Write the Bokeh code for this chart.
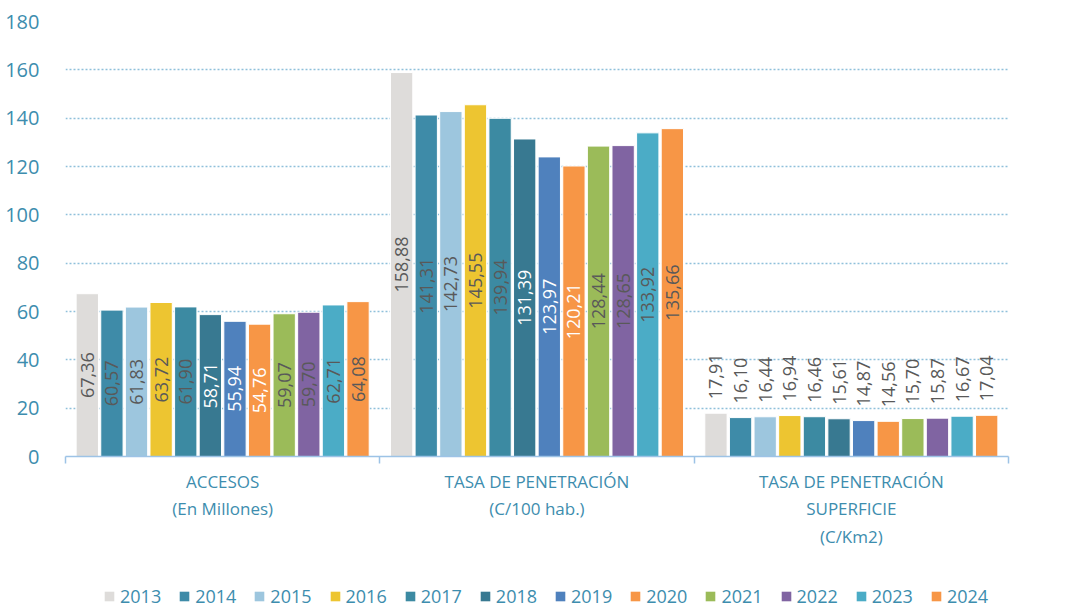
import math
from bokeh.plotting import figure
from bokeh.layouts import column
from bokeh.models import (Range1d, LinearAxis, FixedTicker, Legend, LegendItem, ColumnDataSource)
from bokeh.transform import dodge
from bokeh.core.properties import value
from bokeh.embed import file_html
from bokeh.resources import INLINE

# ---------------- data ----------------
categories = ["ACCESOS\n(En Millones)",
              "TASA DE PENETRACIÓN\n(C/100 hab.)",
              "TASA DE PENETRACIÓN\nSUPERFICIE\n(C/Km2)"]
years = ["2013", "2014", "2015", "2016", "2017", "2018",
         "2019", "2020", "2021", "2022", "2023", "2024"]
accesos = [67.36, 60.57, 61.83, 63.72, 61.90, 58.71, 55.94, 54.76, 59.07, 59.70, 62.71, 64.08]
tasa_penetracion = [158.88, 141.31, 142.73, 145.55, 139.94, 131.39, 123.97, 120.21, 128.44, 128.65, 133.92, 135.66]
tasa_superficie = [17.91, 16.10, 16.44, 16.94, 16.46, 15.61, 14.87, 14.56, 15.70, 15.87, 16.67, 17.04]
y_ticks = [0, 20, 40, 60, 80, 100, 120, 140, 160, 180]

colors = ["#DEDCDA", "#3E8BA8", "#9DC6DE", "#EDC531", "#3C8AA2", "#387991",
          "#4F81BD", "#F79646", "#9BBB59", "#8064A2", "#4BACC6", "#F79646"]
inside_label_colors = ["#595959"] * 5 + ["#FFFFFF"] * 3 + ["#595959"] * 4

TEAL = "#3D8DAE"
FONT = "Open Sans"

ncat = len(categories)
centers = [k + 0.5 for k in range(ncat)]
bounds = list(range(ncat + 1))

p = figure(x_range=Range1d(0, ncat), y_range=Range1d(0, 180),
           width=1060, height=578, output_backend="svg", toolbar_location=None,
           x_axis_location=None, min_border_left=65, min_border_right=52,
           min_border_top=21, min_border_bottom=122)
p.outline_line_color = None

slot = 0.0783
bw = 0.071
for i, yr in enumerate(years):
    vals = [accesos[i], tasa_penetracion[i], tasa_superficie[i]]
    labels = [f"{v:.2f}".replace(".", ",") for v in vals]
    src = ColumnDataSource(dict(xc=centers, val=vals, lab=labels))
    off = (i - 5.5) * slot
    p.vbar(x=dodge("xc", off), top="val", width=bw, source=src,
           fill_color=colors[i], line_color="white", line_width=1)
    inner = ColumnDataSource(dict(xc=centers[:2], half=[v / 2 for v in vals[:2]], lab=labels[:2]))
    p.text(x=dodge("xc", off), y="half", text="lab", source=inner,
           angle=math.pi / 2, text_align="center", text_baseline="middle",
           text_color=inside_label_colors[i], text_font=value(FONT), text_font_size="18px")
    outer = ColumnDataSource(dict(xc=centers[2:], val=vals[2:], lab=labels[2:]))
    p.text(x=dodge("xc", off), y="val", text="lab", source=outer,
           angle=math.pi / 2, text_align="left", text_baseline="middle", y_offset=-14,
           text_color="#595959", text_font=value(FONT), text_font_size="18px")

# y axis
p.yaxis.ticker = FixedTicker(ticks=y_ticks)
p.yaxis.axis_line_color = None
p.yaxis.major_tick_line_color = None
p.yaxis.minor_tick_line_color = None
p.yaxis.major_label_text_color = TEAL
p.yaxis.major_label_text_font = FONT
p.yaxis.major_label_text_font_size = "20px"
p.yaxis.major_label_standoff = 20

p.ygrid.grid_line_color = "#8FC0DA"
p.ygrid.grid_line_dash = "2 2"
p.ygrid.grid_line_width = 1.5
p.xgrid.grid_line_color = None

# x axis: boundary ticks (no labels)
num_axis = LinearAxis(ticker=FixedTicker(ticks=bounds),
                      major_label_overrides={b: "" for b in bounds},
                      major_label_text_font_size="1px", major_label_standoff=0,
                      major_tick_in=0, major_tick_out=7, minor_tick_line_color=None,
                      axis_line_color="#9DC3E6", axis_line_width=1.5,
                      major_tick_line_color="#9DC3E6", major_tick_line_width=1.5)
p.add_layout(num_axis, "below")
cat_axis = LinearAxis(ticker=FixedTicker(ticks=centers),
                      major_label_overrides={c: lab for c, lab in zip(centers, categories)},
                      axis_line_color=None, major_tick_line_color=None, minor_tick_line_color=None,
                      major_label_text_color=TEAL, major_label_text_font=FONT,
                      major_label_text_font_size="17px", major_label_standoff=0)
p.add_layout(cat_axis, "below")

# legend strip below the chart (legend keys are zero-height bars outside the view)
lp = figure(width=1060, height=30, x_range=Range1d(0, 1), y_range=Range1d(0, 1),
            output_backend="svg", toolbar_location=None, min_border=0,
            x_axis_location=None, y_axis_location=None)
lp.grid.grid_line_color = None
lp.outline_line_color = None
items = []
for i, yr in enumerate(years):
    key = lp.vbar(x=[-5], top=[0], width=0.1, fill_color=colors[i], line_color=None)
    items.append(LegendItem(label=yr, renderers=[key]))
legend = Legend(items=items, orientation="horizontal", location=(38, 0), padding=3, margin=0,
                glyph_width=12, glyph_height=12, label_standoff=5, spacing=17,
                label_text_color=TEAL, label_text_font=FONT, label_text_font_size="18px",
                border_line_color=None, background_fill_alpha=0)
lp.add_layout(legend)

layout = column(p, lp, spacing=0)
open("out.html", "w").write(file_html(layout, INLINE))
